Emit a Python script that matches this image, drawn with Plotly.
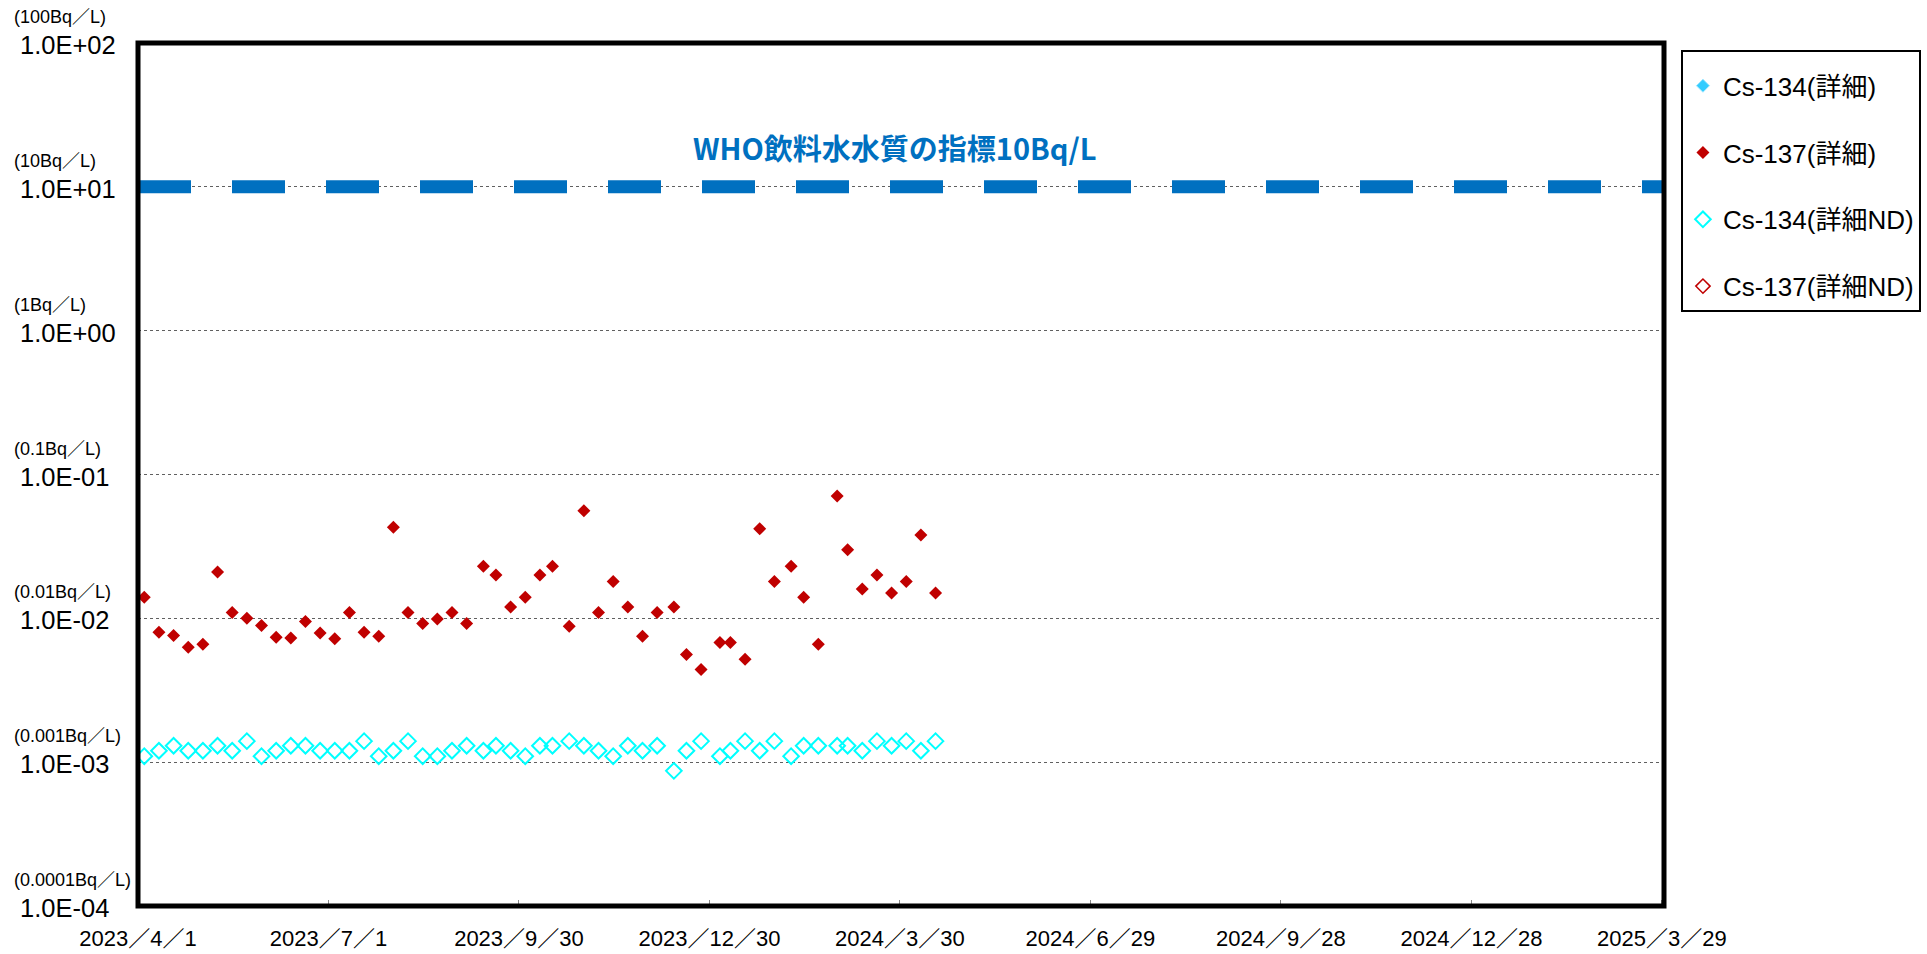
import math
import plotly.graph_objects as go

# ---------------- data ----------------
sample_dates = [
    "2023-04-04", "2023-04-11", "2023-04-18", "2023-04-25", "2023-05-02", "2023-05-09",
    "2023-05-16", "2023-05-23", "2023-05-30", "2023-06-06", "2023-06-13", "2023-06-20",
    "2023-06-27", "2023-07-04", "2023-07-11", "2023-07-18", "2023-07-25", "2023-08-01",
    "2023-08-08", "2023-08-15", "2023-08-22", "2023-08-29", "2023-09-05", "2023-09-13",
    "2023-09-19", "2023-09-26", "2023-10-03", "2023-10-10", "2023-10-16", "2023-10-24",
    "2023-10-31", "2023-11-07", "2023-11-14", "2023-11-21", "2023-11-28", "2023-12-05",
    "2023-12-13", "2023-12-19", "2023-12-26", "2024-01-04", "2024-01-09", "2024-01-16",
    "2024-01-23", "2024-01-30", "2024-02-07", "2024-02-13", "2024-02-20", "2024-02-29",
    "2024-03-05", "2024-03-12", "2024-03-19", "2024-03-26", "2024-04-02", "2024-04-09",
    "2024-04-16",
]

cs137_detail = [
    0.0140, 0.0080, 0.0076, 0.0063, 0.0066, 0.0210, 0.0110, 0.0100, 0.0089, 0.0074,
    0.0073, 0.0095, 0.0079, 0.0072, 0.0110, 0.0080, 0.0075, 0.0430, 0.0110, 0.0092,
    0.0099, 0.0110, 0.0092, 0.0230, 0.0200, 0.0120, 0.0140, 0.0200, 0.0230, 0.0088,
    0.0560, 0.0110, 0.0180, 0.0120, 0.0075, 0.0110, 0.0120, 0.0056, 0.0044, 0.0068,
    0.0068, 0.0052, 0.0420, 0.0180, 0.0230, 0.0140, 0.0066, 0.0710, 0.0300, 0.0160,
    0.0200, 0.0150, 0.0180, 0.0380, 0.0150,
]

cs134_nd = [
    0.0011, 0.0012, 0.0013, 0.0012, 0.0012, 0.0013, 0.0012, 0.0014, 0.0011, 0.0012,
    0.0013, 0.0013, 0.0012, 0.0012, 0.0012, 0.0014, 0.0011, 0.0012, 0.0014, 0.0011,
    0.0011, 0.0012, 0.0013, 0.0012, 0.0013, 0.0012, 0.0011, 0.0013, 0.0013, 0.0014,
    0.0013, 0.0012, 0.0011, 0.0013, 0.0012, 0.0013, 0.00087, 0.0012, 0.0014, 0.0011,
    0.0012, 0.0014, 0.0012, 0.0014, 0.0011, 0.0013, 0.0013, 0.0013, 0.0013, 0.0012,
    0.0014, 0.0013, 0.0014, 0.0012, 0.0014,
]

cs134_detail = []      # no detected values in this period
cs137_nd = []          # no ND values in this period

who_limit = 10.0
who_label = "WHO飲料水水質の指標10Bq/L"

x_range = ["2023-04-01", "2025-03-30"]
x_tickvals = ["2023-04-01", "2023-07-01", "2023-09-30", "2023-12-30", "2024-03-30",
              "2024-06-29", "2024-09-28", "2024-12-28", "2025-03-29"]
x_ticktext = ["2023／4／1", "2023／7／1", "2023／9／30", "2023／12／30", "2024／3／30",
              "2024／6／29", "2024／9／28", "2024／12／28", "2025／3／29"]

y_tickvals = [1e2, 1e1, 1e0, 1e-1, 1e-2, 1e-3, 1e-4]
y_ticktext = ["1.0E+02", "1.0E+01", "1.0E+00", "1.0E-01", "1.0E-02", "1.0E-03", "1.0E-04"]
y_unittext = ["(100Bq／L)", "(10Bq／L)", "(1Bq／L)", "(0.1Bq／L)", "(0.01Bq／L)",
              "(0.001Bq／L)", "(0.0001Bq／L)"]


def series_or_blank(dates, values):
    """Empty series still need one blank point so the legend shows them."""
    if values:
        return dates[:len(values)], values
    return [None], [None]


# ---------------- figure ----------------
FONT = "Liberation Sans, Noto Sans CJK JP, sans-serif"
fig = go.Figure()

# WHO guideline line
fig.add_trace(go.Scatter(
    x=x_range, y=[who_limit, who_limit], mode="lines",
    line=dict(color="#0070C0", width=13, dash="53px,41px"),
    showlegend=False, hoverinfo="skip",
))

x134d, y134d = series_or_blank(sample_dates, cs134_detail)
fig.add_trace(go.Scatter(
    x=x134d, y=y134d, mode="markers",
    name="Cs-134(詳細)", legendgroup="a",
    marker=dict(symbol="diamond", size=10, color="#33CCFF",
                line=dict(color="#99E6FF", width=1)),
))
fig.add_trace(go.Scatter(
    x=sample_dates, y=cs137_detail, mode="markers",
    name="Cs-137(詳細)", legendgroup="b",
    marker=dict(symbol="diamond", size=10, color="#C00000"),
))
fig.add_trace(go.Scatter(
    x=sample_dates, y=cs134_nd, mode="markers",
    name="Cs-134(詳細ND)", legendgroup="c",
    marker=dict(symbol="diamond-open", size=12, color="#00FFFF",
                line=dict(color="#00FFFF", width=2)),
))
x137n, y137n = series_or_blank(sample_dates, cs137_nd)
fig.add_trace(go.Scatter(
    x=x137n, y=y137n, mode="markers",
    name="Cs-137(詳細ND)", legendgroup="d",
    marker=dict(symbol="diamond-open", size=11, color="#C00000",
                line=dict(color="#C00000", width=1.5)),
))

annotations = []
for v, big, small in zip(y_tickvals, y_ticktext, y_unittext):
    lv = math.log10(v)
    annotations.append(dict(
        x=-0.0786, xref="paper", y=lv, yref="y", text=big, showarrow=False,
        xanchor="left", yanchor="middle", yshift=-2,
        font=dict(family=FONT, size=25.5, color="black"),
    ))
    annotations.append(dict(
        x=-0.0825, xref="paper", y=lv, yref="y", text=small, showarrow=False,
        xanchor="left", yanchor="middle", yshift=26,
        font=dict(family=FONT, size=18, color="black"),
    ))

annotations.append(dict(
    x=0.4957, xref="paper", y=math.log10(who_limit), yref="y", text="<b>" + who_label + "</b>",
    showarrow=False, xanchor="center", yanchor="middle", yshift=40,
    font=dict(family="Noto Sans CJK JP, sans-serif", size=29, color="#0070C0"),
))

fig.update_layout(
    width=1927, height=954,
    margin=dict(l=138, r=262.5, t=43, b=48, autoexpand=False),
    paper_bgcolor="white", plot_bgcolor="white",
    font=dict(family=FONT, color="black"),
    annotations=annotations,
    # plot-area frame, centred on the plot edges
    shapes=[dict(type="rect", xref="paper", yref="paper", x0=0, x1=1, y0=0, y1=1,
                 line=dict(color="black", width=5), layer="above")],
    legend=dict(
        x=1.0111, y=0.992, xanchor="left", yanchor="top",
        bordercolor="black", borderwidth=2, bgcolor="white",
        font=dict(family=FONT, size=26, color="black"),
        title=dict(text="&nbsp;", font=dict(size=8)),
        traceorder="grouped", tracegroupgap=30, itemwidth=30,
    ),
    xaxis=dict(
        type="date", range=x_range, tickvals=x_tickvals, ticktext=x_ticktext,
        ticks="inside", ticklen=6, tickcolor="#888888", tickwidth=1,
        showgrid=False, zeroline=False, showline=False, automargin=False,
        tickfont=dict(family=FONT, size=22, color="black"),
        ticklabelstandoff=17,
    ),
    yaxis=dict(
        type="log", range=[-4, 2], tickvals=y_tickvals, showticklabels=False,
        ticks="", showgrid=True, gridcolor="#606060", gridwidth=1, griddash="dot",
        zeroline=False, showline=False, automargin=False,
    ),
)

fig.write_html(
    "out.html",
    config={"displayModeBar": False},
    post_script="document.body.style.margin='0';document.body.style.overflow='hidden';",
)
